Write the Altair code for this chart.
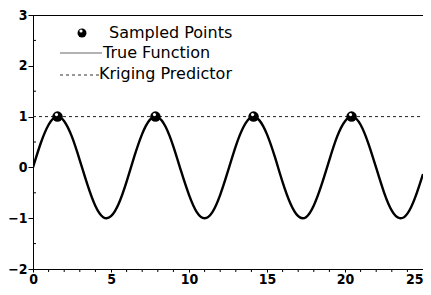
import altair as alt
import pandas as pd

# True function (x step 0.5)
true_x = [i * 0.5 for i in range(51)]
true_y = [0.00, 0.48, 0.84, 1.00, 0.91, 0.60, 0.14, -0.35, -0.76, -0.98,
          -0.96, -0.71, -0.28, 0.22, 0.66, 0.94, 0.99, 0.80, 0.41, -0.08,
          -0.54, -0.88, -1.00, -0.88, -0.54, -0.07, 0.42, 0.80, 0.99, 0.93,
          0.65, 0.21, -0.29, -0.71, -0.96, -0.98, -0.75, -0.34, 0.15, 0.61,
          0.91, 1.00, 0.84, 0.47, -0.01, -0.49, -0.85, -1.00, -0.91, -0.59,
          -0.13]

# Sampled points
sample_x = [1.57, 7.85, 14.14, 20.42]
sample_y = [1.0, 1.0, 1.0, 1.0]

# Kriging predictor
krig_x = [0, 25]
krig_y = [1.0, 1.0]

legend_labels = ["Sampled Points", "True Function", "Kriging Predictor"]

x_major = [0, 5, 10, 15, 20, 25]
x_minor = [v for v in range(0, 26) if v % 5 != 0]
y_major = [-2, -1, 0, 1, 2, 3]
y_minor = [-1.5, -0.5, 0.5, 1.5, 2.5]

FONT = "DejaVu Sans"
AXFONT = "DejaVu Sans Condensed, DejaVu Sans"
W, H = 390, 254

true_df = pd.DataFrame({"x": true_x, "y": true_y})
samp_df = pd.DataFrame({"x": sample_x, "y": sample_y})
krig_df = pd.DataFrame({"x": krig_x, "y": krig_y})

xscale = alt.Scale(domain=[0, 25], nice=False, zero=False)
yscale = alt.Scale(domain=[-2, 3], nice=False, zero=False)

xaxis = alt.Axis(
    title=None, values=x_major, grid=False, format="d",
    labelOverlap=False,
    labelAlign={"expr": "datum.value == 25 ? 'right' : 'center'"},
    tickSize=3, tickColor="black", domainColor="black",
    labelFont=AXFONT, labelFontSize=14, labelFontWeight="bold", labelColor="black",
    labelPadding=0, labelFlush=False,
)
yaxis = alt.Axis(
    title=None, values=y_major, grid=False, format="d",
    labelOverlap=False,
    tickSize=5, tickColor="black", domainColor="black",
    labelFont=AXFONT, labelFontSize=14, labelFontWeight="bold", labelColor="black",
    labelPadding=1, labelFlush=False,
)

base_x = alt.X("x:Q", scale=xscale, axis=xaxis)
base_y = alt.Y("y:Q", scale=yscale, axis=yaxis)

true_line = alt.Chart(true_df).mark_line(
    color="black", strokeWidth=2.4, interpolate="natural", clip=True
).encode(x=base_x, y=base_y)

krig_line = alt.Chart(krig_df).mark_line(
    color="#222", strokeWidth=1, strokeDash=[3, 3]
).encode(x="x:Q", y="y:Q")

pts = alt.Chart(samp_df).mark_circle(
    color="black", size=110, opacity=1
).encode(x="x:Q", y="y:Q")

hl = alt.Chart(samp_df).mark_circle(
    color="white", size=10, opacity=1, xOffset=-1, yOffset=-2
).encode(x="x:Q", y="y:Q")

# minor ticks
xminor = alt.Chart(pd.DataFrame({"x": x_minor})).mark_rule(
    color="black", strokeWidth=1
).encode(x="x:Q", y=alt.value(H), y2=alt.value(H + 3))
yminor = alt.Chart(pd.DataFrame({"y": y_minor})).mark_rule(
    color="black", strokeWidth=1
).encode(y="y:Q", x=alt.value(0), x2=alt.value(3))

# legend (top-left inside the plot)
legend_layers = []
for lab, px, py in zip(legend_labels, [76, 70, 66], [18, 38, 59]):
    legend_layers.append(
        alt.Chart(pd.DataFrame({"t": [lab]})).mark_text(
            align="left", baseline="middle", font=FONT, fontSize=16, color="black"
        ).encode(x=alt.value(px), y=alt.value(py), text="t:N")
    )

leg_pt = alt.Chart(pd.DataFrame({"a": [0]})).mark_circle(
    color="black", size=80, opacity=1
).encode(x=alt.value(49), y=alt.value(18))
leg_pt_hl = alt.Chart(pd.DataFrame({"a": [0]})).mark_circle(
    color="white", size=10, opacity=1
).encode(x=alt.value(48), y=alt.value(16))
leg_l1 = alt.Chart(pd.DataFrame({"a": [0]})).mark_rule(
    color="#666", strokeWidth=1
).encode(x=alt.value(27), x2=alt.value(69), y=alt.value(38))
leg_l2 = alt.Chart(pd.DataFrame({"a": [0]})).mark_rule(
    color="#333", strokeWidth=1, strokeDash=[3, 3]
).encode(x=alt.value(27), x2=alt.value(66), y=alt.value(60))

chart = alt.layer(
    true_line, krig_line, pts, hl, xminor, yminor,
    leg_pt, leg_pt_hl, leg_l1, leg_l2, *legend_layers
).properties(
    width=W, height=H,
    padding={"left": 25, "top": 7, "right": 0, "bottom": 18},
    autosize="none",
    background="white",
).configure_view(
    stroke="black", strokeWidth=1
)

chart.save("out.html", embed_options={"renderer": "svg", "actions": False})
